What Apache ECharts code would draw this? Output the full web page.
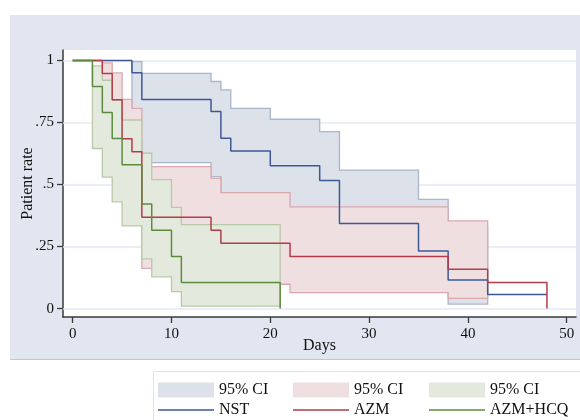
<!DOCTYPE html>
<html><head><meta charset="utf-8">
<script src="https://cdn.jsdelivr.net/npm/echarts@6/dist/echarts.min.js"></script>
<style>html,body{margin:0;padding:0;background:#fff}#c{width:580px;height:420px}</style>
</head><body><div id="c"></div>
<script>
// Kaplan-Meier step curves: [day, patient rate]; value holds until the next point
const nstCurve = [[0,1],[6,0.95],[7,0.843],[14,0.794],[15,0.686],[16,0.635],[20,0.576],[25,0.516],[27,0.343],[35,0.232],[38,0.115],[42,0.057],[48,0.057]];
const azmCurve = [[0,1],[3,0.947],[4,0.842],[5,0.684],[6,0.632],[7,0.368],[14,0.316],[15,0.263],[22,0.21],[38,0.158],[42,0.105],[48,0]];
const hcqCurve = [[0,1],[2,0.895],[3,0.79],[4,0.685],[5,0.58],[7,0.421],[8,0.316],[10,0.21],[11,0.105],[21,0]];
// 95% CI bands: [day, lower, upper]; last row marks the end day
const nstBand = [[6,0.68,0.995],[7,0.588,0.948],[14,0.532,0.915],[15,0.43,0.881],[16,0.38,0.807],[20,0.33,0.763],[25,0.28,0.713],[27,0.13,0.558],[35,0.066,0.44],[38,0.018,0.33],[42,0.018,0.33]];
const azmBand = [[3,0.68,0.99],[4,0.587,0.95],[5,0.43,0.843],[6,0.38,0.807],[7,0.162,0.572],[14,0.128,0.525],[15,0.098,0.467],[22,0.064,0.41],[38,0.041,0.353],[42,0.041,0.353]];
const hcqBand = [[2,0.645,0.978],[3,0.53,0.92],[4,0.43,0.84],[5,0.333,0.76],[7,0.2,0.626],[8,0.128,0.52],[10,0.068,0.408],[11,0.01,0.338],[21,0.01,0.338]];
const groupNames = ['NST','AZM','AZM+HCQ'];
const ciLabel = '95% CI';
const xTickValues = [0,10,20,30,40,50];
const yTickValues = [0,0.25,0.5,0.75,1];
const yTickLabels = ['0','.25','.5','.75','1'];

const FONT = 'Liberation Serif, Times New Roman, serif';
const lineColors = ['#3d5995','#b23c4a','#5d8b3d'];
const fillColors = ['#dde2ea','#efdfe1','#e4e9dd'];
const strokeColors = ['#a9b5c9','#d9a9af','#b9c9a7'];

function bandRender(rows, fill, stroke) {
  return function (params, api) {
    if (params.dataIndex !== 0) return null;
    const top = [], bot = [];
    for (let i = 0; i < rows.length - 1; i++) {
      top.push(api.coord([rows[i][0], rows[i][2]]), api.coord([rows[i+1][0], rows[i][2]]));
      bot.push(api.coord([rows[i][0], rows[i][1]]), api.coord([rows[i+1][0], rows[i][1]]));
    }
    return {type:'polygon', shape:{points: top.concat(bot.reverse())},
            style:{fill: fill, stroke: stroke, lineWidth: 1.3}};
  };
}

const bands = [nstBand, azmBand, hcqBand];
const curves = [nstCurve, azmCurve, hcqCurve];
const series = [];
bands.forEach((b, i) => {
  series.push({
    name: groupNames[i] + ' CI', type: 'custom', data: b, encode: {x: 0, y: [1, 2]},
    renderItem: bandRender(b, fillColors[i], strokeColors[i]),
    itemStyle: {color: fillColors[i]}, z: 2, silent: true
  });
});
curves.forEach((c, i) => {
  const s = {
    name: groupNames[i], type: 'line', step: 'end', data: c, symbol: 'none',
    color: lineColors[i], lineStyle: {color: lineColors[i], width: 1.5},
    itemStyle: {color: lineColors[i]}, z: 3, silent: true
  };
  if (i === 0) {
    s.markLine = {silent: true, symbol: ['none','none'], z: 1, animation: false,
      label: {show: false}, lineStyle: {color: '#e6e9f2', width: 1.5, type: 'solid'},
      data: yTickValues.map(v => ({yAxis: v}))};
  }
  series.push(s);
});

const legendCols = [158, 293, 429];
const legends = [];
groupNames.forEach((g, i) => {
  legends.push({data: [{name: g + ' CI', icon: 'rect'}], left: legendCols[i], top: 382, padding: 0,
    itemWidth: 56, itemHeight: 15, selectedMode: false, formatter: () => ciLabel,
    textStyle: {fontFamily: FONT, fontSize: 16, color: '#111'}});
  legends.push({data: [{name: g, icon: 'rect'}], left: legendCols[i], top: 402, padding: 0,
    itemWidth: 56, itemHeight: 1.5, selectedMode: false,
    textStyle: {fontFamily: FONT, fontSize: 16, color: '#111'}});
});

const chart = echarts.init(document.getElementById('c'), null, {renderer: 'canvas'});
chart.setOption({
  animation: false,
  backgroundColor: '#ffffff',
  graphic: [
    {type: 'rect', z: -10, shape: {x: 10, y: 15, width: 570, height: 344}, style: {fill: '#e1e6f0'}},
    {type: 'line', z: -9, shape: {x1: 10, y1: 359.5, x2: 580, y2: 359.5}, style: {stroke: '#c4c7cc', lineWidth: 1}},
    {type: 'rect', z: -10, shape: {x: 153.5, y: 371.5, width: 440, height: 60}, style: {fill: '#fff', stroke: '#e2e2e2', lineWidth: 1}}
  ],
  grid: {left: 63, right: 4, top: 50, bottom: 103, show: true, backgroundColor: '#ffffff', borderWidth: 0},
  xAxis: {
    type: 'value', min: -0.98, max: 50.94,
    name: 'Days', nameLocation: 'middle', nameGap: 21, nameMoveOverlap: false,
    nameTextStyle: {fontFamily: FONT, fontSize: 16, color: '#111'},
    axisLine: {show: true, onZero: false, lineStyle: {color: '#3a3a3a', width: 1.5}},
    axisTick: {show: true, customValues: xTickValues, length: 6, lineStyle: {color: '#3a3a3a', width: 1.3}},
    axisLabel: {customValues: xTickValues, margin: 10, fontFamily: FONT, fontSize: 15, color: '#111'},
    splitLine: {show: false}
  },
  yAxis: {
    type: 'value', min: -0.034, max: 1.042,
    name: 'Patient rate', nameLocation: 'middle', nameGap: 27, nameRotate: 90, nameMoveOverlap: false,
    nameTextStyle: {fontFamily: FONT, fontSize: 16, color: '#111'},
    axisLine: {show: true, onZero: false, lineStyle: {color: '#3a3a3a', width: 1.5}},
    axisTick: {show: true, customValues: yTickValues, length: 6, lineStyle: {color: '#3a3a3a', width: 1.3}},
    axisLabel: {customValues: yTickValues, margin: 9, fontFamily: FONT, fontSize: 15, color: '#111',
      formatter: v => { const k = yTickValues.findIndex(t => Math.abs(t - v) < 1e-9); return k >= 0 ? yTickLabels[k] : ''; }},
    splitLine: {show: false}
  },
  legend: legends,
  series: series
});
</script></body></html>
